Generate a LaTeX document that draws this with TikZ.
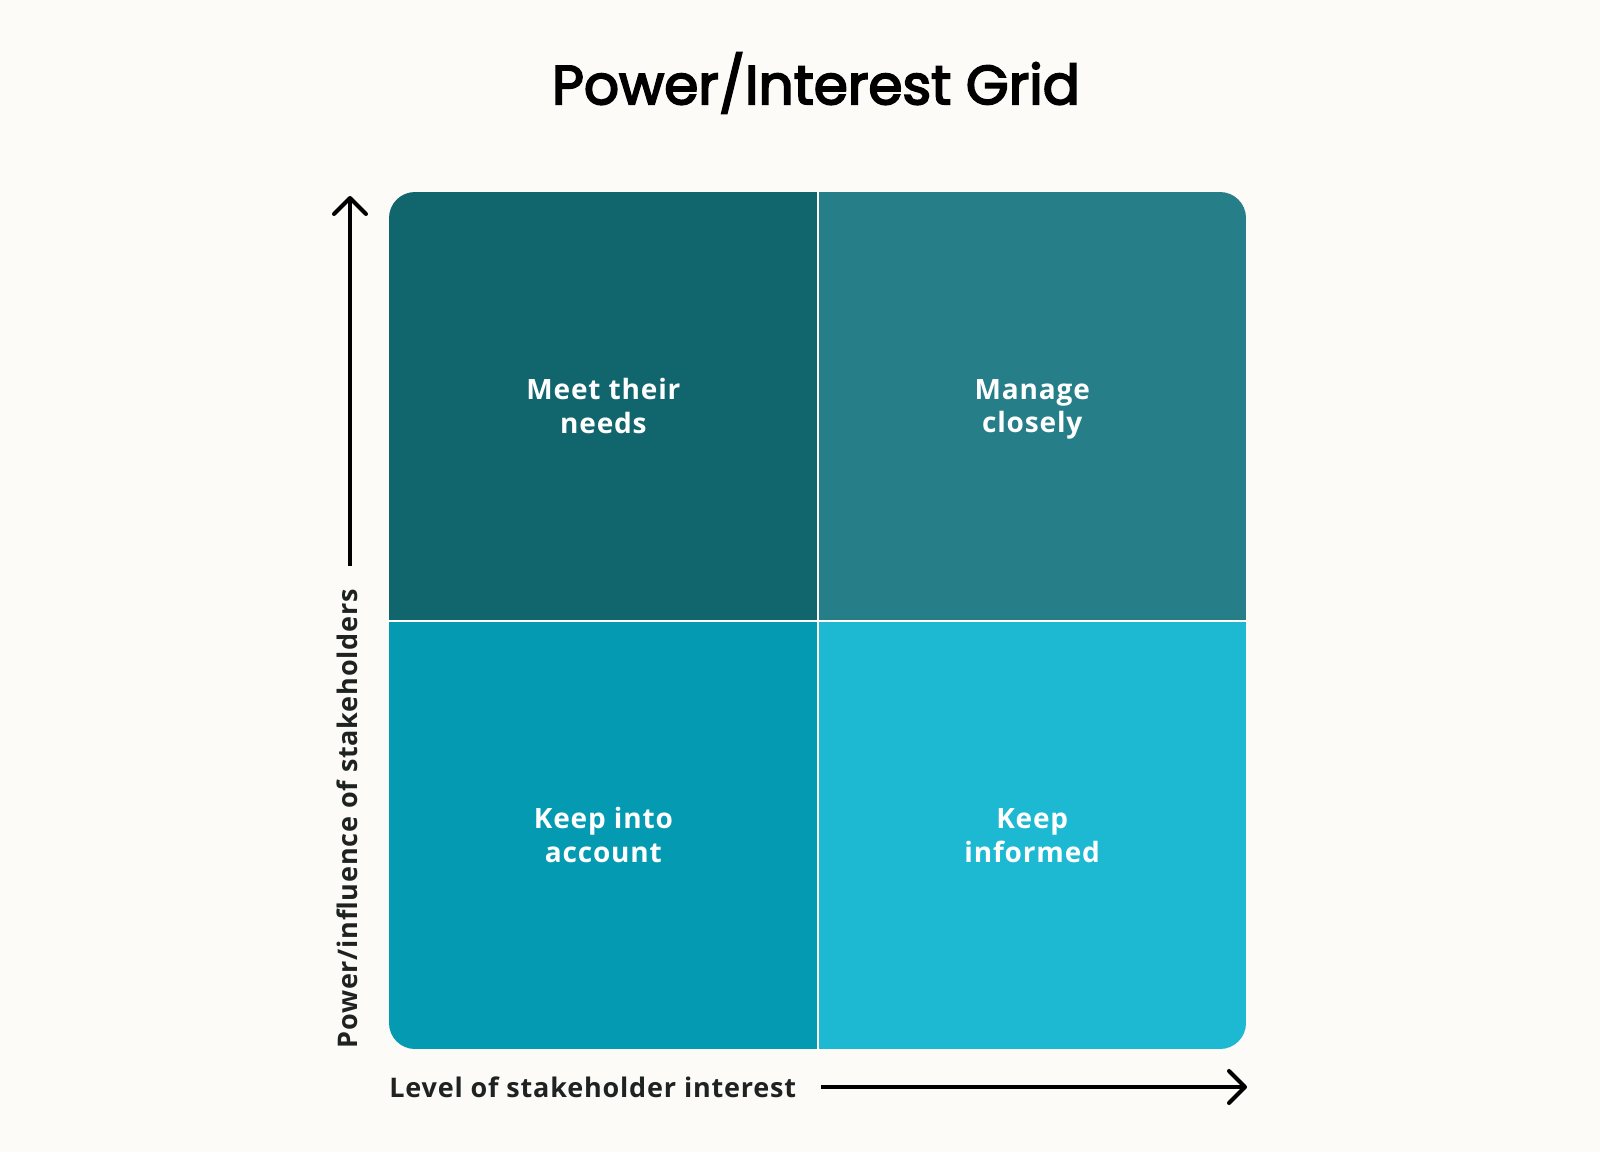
\documentclass[tikz,border=0pt]{standalone}
\usepackage{fontspec}
\setmainfont{Open Sans}
\newfontfamily\titlefont{Poppins}
\newfontfamily\labelfont[LetterSpace=3]{Open Sans}
\usetikzlibrary{positioning,arrows.meta}

% thicker title strokes: fill and outline the glyphs
\newcommand\heavytext[1]{\special{pdf:literal direct 2 Tr 0.9 w}#1\special{pdf:literal direct 0 Tr}}
\newcommand\cellstrut{\rule[-3pt]{0pt}{16pt}}

\definecolor{pagecol}{HTML}{FCFBF8}
\definecolor{meetcol}{HTML}{11656D}
\definecolor{closecol}{HTML}{267E89}
\definecolor{accountcol}{HTML}{049AB1}
\definecolor{informedcol}{HTML}{1DB9D2}
\definecolor{inkcol}{HTML}{1E2322}

\tikzset{
    cell/.style={rectangle, inner sep=0pt, minimum width=214pt, minimum height=214pt,
        align=center, text=white, font=\labelfont\bfseries\fontsize{14}{16.8}\selectfont},
    divider/.style={white, line width=1.1pt},
    axis/.style={black, line width=2pt, -{Straight Barb[length=8pt, width=16pt, line width=2pt, round]}},
    axislabel/.style={inner sep=0pt, text=inkcol, font=\labelfont\bfseries\fontsize{13.5}{16}\selectfont}
}

\begin{document}
\begin{tikzpicture}[x=0.5pt, y=-0.5pt, node distance=0pt]
    \fill[pagecol] (0,0) rectangle (1600,1152);
    \useasboundingbox (0,0) rectangle (1600,1152);

    \node[font=\titlefont\fontsize{27.5}{33}\selectfont, text=black] (title) at (816,83) {\heavytext{Power/Interest Grid}};

    % quadrants, clipped to the rounded outline
    \begin{scope}
        \clip[rounded corners=13pt] (389,192) rectangle (1246,1049);
        \node[cell, fill=meetcol, anchor=north west] (meet) at (389,192) {\cellstrut Meet their\\\cellstrut needs};
        \node[cell, fill=closecol, right=of meet] (close) {\cellstrut Manage\\\cellstrut closely};
        \node[cell, fill=accountcol, below=of meet] (account) {\cellstrut Keep into\\\cellstrut account};
        \node[cell, fill=informedcol, right=of account] (informed) {\cellstrut Keep\\\cellstrut informed};
    \end{scope}
    \draw[divider] (meet.north east) -- (account.south east);
    \draw[divider] (meet.south west) -- (informed.north east);

    % axes
    \node[axislabel, rotate=90, anchor=west] (ylabel) at (347,1049) {Power/influence of stakeholders};
    \node[axislabel, anchor=west] (xlabel) at (389,1087) {Level of stakeholder interest};
    \coordinate (ystart) at (350,566);
    \coordinate (ytip) at (350,196);
    \coordinate (xstart) at (821,1087);
    \coordinate (xtip) at (1247,1087);
    \draw[axis] (ystart) -- (ytip);
    \draw[axis] (xstart) -- (xtip);
\end{tikzpicture}
\end{document}
